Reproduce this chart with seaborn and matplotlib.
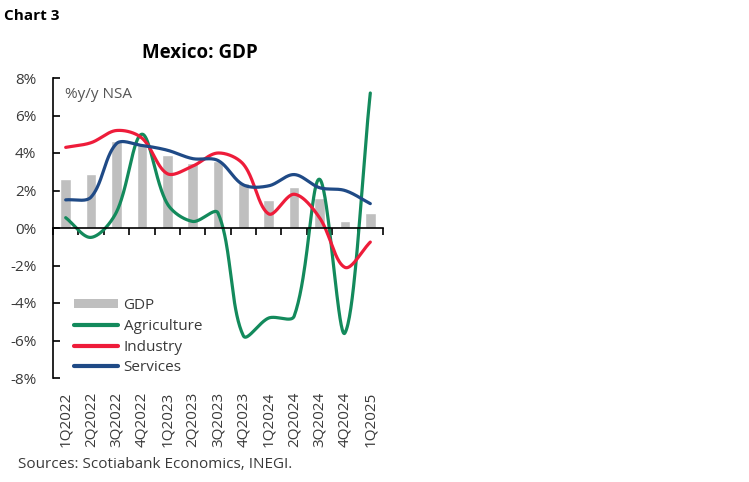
import numpy as np
import pandas as pd
import matplotlib
matplotlib.use("Agg")
import matplotlib.pyplot as plt
import seaborn as sns
from matplotlib.lines import Line2D
from matplotlib.patches import Patch

quarters = ["1Q2022", "2Q2022", "3Q2022", "4Q2022", "1Q2023", "2Q2023", "3Q2023",
            "4Q2023", "1Q2024", "2Q2024", "3Q2024", "4Q2024", "1Q2025"]
gdp = [2.6, 2.9, 4.65, 4.45, 3.9, 3.45, 3.55, 2.4, 1.5, 2.2, 1.6, 0.35, 0.8]
agriculture = [0.55, -0.5, 0.85, 5.0, 1.3, 0.35, 0.8, -5.75, -4.8, -4.7, 2.6, -5.6, 7.2]
industry = [4.3, 4.55, 5.2, 4.8, 2.9, 3.3, 4.0, 3.4, 0.75, 1.8, 0.55, -2.1, -0.75]
services = [1.5, 1.65, 4.5, 4.4, 4.15, 3.7, 3.6, 2.3, 2.25, 2.85, 2.15, 2.0, 1.3]

C_GDP = "#bfbfbf"
C_AGR = "#138a5c"
C_IND = "#ee1c3a"
C_SER = "#1f4a86"
C_TXT = "#3a3a3a"

sns.set_theme(style="white")
plt.rcParams["font.family"] = ["Open Sans", "DejaVu Sans"]

# pixel scale of the plot area (used only to shape the Excel-style smoothing)
PX_X = 330 / 13.0
PX_Y = 300 / 16.0


def smooth(vals, n=40):
    """Excel-like smoothed line: Bezier segments with chord-weighted tangents."""
    y = np.asarray(vals, float) * PX_Y
    x = np.arange(len(vals), dtype=float) * PX_X
    P = np.column_stack([x, y])
    m = len(P)
    xs, ys = [], []
    for i in range(m - 1):
        p0 = P[max(i - 1, 0)]
        p1 = P[i]
        p2 = P[i + 1]
        p3 = P[min(i + 2, m - 1)]
        d01 = np.linalg.norm(p1 - p0)
        d12 = np.linalg.norm(p2 - p1)
        d23 = np.linalg.norm(p3 - p2)
        f1 = d12 / (d01 + d12) if d01 + d12 > 0 else 0
        f2 = d12 / (d12 + d23) if d12 + d23 > 0 else 0
        c1 = p1 + (p2 - p0) * f1 / 3
        c2 = p2 - (p3 - p1) * f2 / 3
        t = np.linspace(0, 1, n, endpoint=(i == m - 2))[:, None]
        pts = ((1 - t) ** 3) * p1 + 3 * ((1 - t) ** 2) * t * c1 + 3 * (1 - t) * t ** 2 * c2 + t ** 3 * p2
        xs.append(pts[:, 0] / PX_X)
        ys.append(pts[:, 1] / PX_Y)
    return np.concatenate(xs), np.concatenate(ys)


fig = plt.figure(figsize=(7.49, 4.82), dpi=100)
ax = fig.add_axes([53 / 749, 1 - 378 / 482, 330 / 749, 300 / 482])

df_bar = pd.DataFrame({"q": quarters, "v": gdp})
sns.barplot(data=df_bar, x="q", y="v", color=C_GDP, width=0.42, saturation=1,
            ax=ax, zorder=1)

for vals, col in [(agriculture, C_AGR), (industry, C_IND), (services, C_SER)]:
    sx, sy = smooth(vals)
    sns.lineplot(x=sx, y=sy, sort=False, color=col, linewidth=2.3, ax=ax,
                 zorder=3, estimator=None)

ax.set_xlim(-0.5, len(quarters) - 0.5)
ax.set_ylim(-8, 8)
ax.set_xlabel("")
ax.set_ylabel("")

# y axis
yt = np.arange(-8, 9, 2)
ax.set_yticks(yt)
ax.set_yticklabels([f"{v}%" for v in yt])
ax.tick_params(axis="y", direction="in", length=5, width=1.2, color="black",
               left=True, pad=12, labelsize=11, labelcolor=C_TXT)

# x axis: spine at zero with boundary ticks
for s in ["top", "right"]:
    ax.spines[s].set_visible(False)
ax.spines["left"].set_color("black")
ax.spines["left"].set_linewidth(1.2)
ax.spines["bottom"].set_position(("data", 0))
ax.spines["bottom"].set_color("black")
ax.spines["bottom"].set_linewidth(1.2)
ax.spines["bottom"].set_zorder(4)
ax.set_xticks(np.arange(-0.5, len(quarters), 1.0))
ax.set_xticklabels([])
ax.tick_params(axis="x", direction="out", length=5, width=1.2, color="black", bottom=True)

sec = ax.secondary_xaxis("bottom")
sec.set_xticks(np.arange(len(quarters)))
sec.set_xticklabels(quarters, rotation=90)
sec.tick_params(length=0, pad=10, labelsize=11, labelcolor=C_TXT)
sec.spines["bottom"].set_visible(False)

fig.text(65 / 749, 1 - 95 / 482, "%y/y NSA", fontsize=11,
         color="#555555", va="center", ha="left")

handles = [Patch(facecolor=C_GDP, edgecolor="none"),
           Line2D([], [], color=C_AGR, lw=3),
           Line2D([], [], color=C_IND, lw=3),
           Line2D([], [], color=C_SER, lw=3)]
labels = ["GDP", "Agriculture", "Industry", "Services"]
leg = ax.legend(handles, labels, loc="lower left", bbox_to_anchor=(0.045, -0.012),
                frameon=False, fontsize=11, handlelength=2.9, handleheight=0.55,
                handletextpad=0.35, labelspacing=0.38, borderaxespad=0)
for t in leg.get_texts():
    t.set_color(C_TXT)

fig.text(200 / 749, 1 - 53 / 482, "Mexico: GDP", ha="center", va="center",
         fontsize=13.5, fontweight="bold", color="black")
fig.text(4 / 749, 1 - 16 / 482, "Chart 3", ha="left", va="center",
         fontsize=11, fontweight="bold", color="black")
fig.text(18 / 749, 1 - 465 / 482, "Sources: Scotiabank Economics, INEGI.", ha="left",
         va="center", fontsize=11, color=C_TXT)

fig.savefig("out.png", dpi=100)
